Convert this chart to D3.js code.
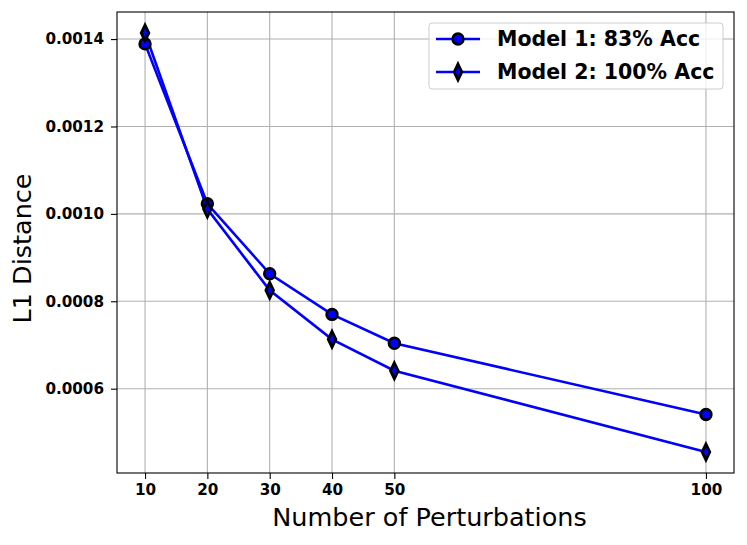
<!DOCTYPE html>
<html>
<head>
<meta charset="utf-8">
<script src="https://cdn.jsdelivr.net/npm/d3@7"></script>
<style>
  body { margin: 0; background: #fff; }
  svg { font-family: "DejaVu Sans", sans-serif; }
  .tick text { font-weight: bold; font-size: 15.2px; fill: #000; }
</style>
</head>
<body>
<svg class="chart" width="747" height="545"></svg>
<script>
// data
var perturbations = [10, 20, 30, 40, 50, 100];
var model1 = [0.001389, 0.001023, 0.000863, 0.000770, 0.000704, 0.000541];
var model2 = [0.001414, 0.001011, 0.000825, 0.000713, 0.000641, 0.000455];
var seriesNames = ["Model 1: 83% Acc", "Model 2: 100% Acc"];
var xTicks = [10, 20, 30, 40, 50, 100];
var yTicks = [0.0006, 0.0008, 0.0010, 0.0012, 0.0014];

var margin = {top: 12, right: 13, bottom: 72, left: 117},
    width = 747 - margin.left - margin.right,
    height = 545 - margin.top - margin.bottom;

var series = [
    {name: seriesNames[0], values: model1, marker: "circle"},
    {name: seriesNames[1], values: model2, marker: "diamond"}
];

// matplotlib style 5% padding
var xMin = d3.min(perturbations), xMax = d3.max(perturbations),
    xPad = (xMax - xMin) * 0.05;
var allY = model1.concat(model2),
    yMin = d3.min(allY), yMax = d3.max(allY),
    yPad = (yMax - yMin) * 0.05;

var x = d3.scaleLinear().domain([xMin - xPad, xMax + xPad]).range([0, width]);
var y = d3.scaleLinear().domain([yMin - yPad, yMax + yPad]).range([height, 0]);

var svg = d3.select(".chart");
var chart = svg.append("g")
    .attr("transform", "translate(" + margin.left + "," + margin.top + ")");

// grid
chart.append("g").selectAll("line")
    .data(xTicks).enter().append("line")
    .attr("x1", d => x(d)).attr("x2", d => x(d))
    .attr("y1", 0).attr("y2", height)
    .attr("stroke", "#b0b0b0").attr("stroke-width", 1.1);
chart.append("g").selectAll("line")
    .data(yTicks).enter().append("line")
    .attr("y1", d => y(d)).attr("y2", d => y(d))
    .attr("x1", 0).attr("x2", width)
    .attr("stroke", "#b0b0b0").attr("stroke-width", 1.1);

// axes
var xAxis = d3.axisBottom(x).tickValues(xTicks).tickSize(6).tickPadding(5)
    .tickFormat(d3.format("d"));
var yAxis = d3.axisLeft(y).tickValues(yTicks).tickSize(6).tickPadding(7)
    .tickFormat(d3.format(".4f"));

chart.append("g").attr("transform", "translate(0," + height + ")").call(xAxis)
    .call(g => g.select(".domain").remove())
    .selectAll("line").attr("stroke", "#000").attr("stroke-width", 1.1);
chart.append("g").call(yAxis)
    .call(g => g.select(".domain").remove())
    .selectAll("line").attr("stroke", "#000").attr("stroke-width", 1.1);
chart.selectAll(".tick text").attr("font-family", "DejaVu Sans");

chart.append("rect")
    .attr("width", width).attr("height", height)
    .attr("fill", "none").attr("stroke", "#000").attr("stroke-width", 1.1);

// marker paths
function markerPath(type, s) {
    if (type === "circle") {
        return d3.symbol(d3.symbolCircle, Math.PI * s * s)();
    }
    var w = s * 0.72, h = s * 1.5;
    return "M0," + (-h) + "L" + w + ",0L0," + h + "L" + (-w) + ",0Z";
}

var line = d3.line()
    .x((d, i) => x(perturbations[i]))
    .y(d => y(d));

series.forEach(function(s) {
    chart.append("path")
        .datum(s.values)
        .attr("fill", "none")
        .attr("stroke", "#0000ff")
        .attr("stroke-width", 2.6)
        .attr("d", line);
});
series.forEach(function(s) {
    chart.append("g").selectAll("path")
        .data(s.values).enter().append("path")
        .attr("transform", (d, i) => "translate(" + x(perturbations[i]) + "," + y(d) + ")")
        .attr("d", markerPath(s.marker, 5.3))
        .attr("fill", "#0000ff")
        .attr("stroke", "#000")
        .attr("stroke-width", 2.8);
});

// legend
var legend = chart.append("g").attr("transform", "translate(" + (width - 305) + ",11)");
legend.append("rect")
    .attr("width", 294).attr("height", 66).attr("rx", 3)
    .attr("fill", "#fff").attr("fill-opacity", 0.8)
    .attr("stroke", "#cccccc").attr("stroke-width", 1);
series.forEach(function(s, i) {
    var gy = 16 + i * 33;
    var item = legend.append("g").attr("transform", "translate(7," + gy + ")");
    item.append("line").attr("x1", 0).attr("x2", 44)
        .attr("stroke", "#0000ff").attr("stroke-width", 2.6);
    item.append("path").attr("transform", "translate(22,0)")
        .attr("d", markerPath(s.marker, 5.3))
        .attr("fill", "#0000ff").attr("stroke", "#000").attr("stroke-width", 2.8);
    item.append("text").attr("x", 61).attr("dy", "0.35em")
        .attr("font-size", "20.5px").attr("font-weight", "bold")
        .text(s.name);
});

// axis labels
svg.append("text")
    .attr("x", margin.left + width / 2 + 4).attr("y", 526)
    .attr("text-anchor", "middle").attr("font-size", "25.5px")
    .text("Number of Perturbations");
svg.append("text")
    .attr("transform", "translate(31," + (margin.top + height / 2 + 6) + ") rotate(-90)")
    .attr("text-anchor", "middle").attr("font-size", "25.5px")
    .text("L1 Distance");
</script>
</body>
</html>
